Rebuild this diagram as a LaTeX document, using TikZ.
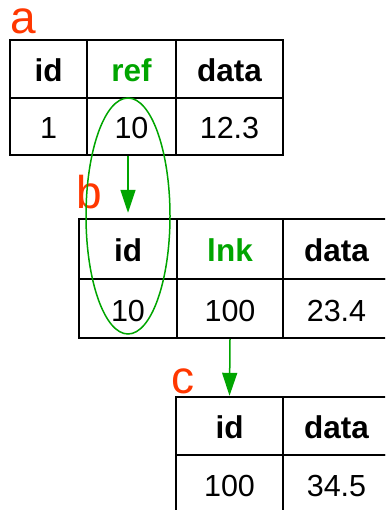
\documentclass[tikz,border=0pt]{standalone}
\usepackage{fontspec}
\setmainfont{Liberation Sans}
\usetikzlibrary{arrows.meta,shapes.geometric}
\definecolor{linkGreen}{RGB}{0,165,0}
\definecolor{tagRed}{RGB}{255,55,0}
\tikzset{
    >={Triangle[length=23pt,width=15pt]},
    cell/.style={rectangle,draw=black,line width=2.4pt,inner sep=0pt,text height=25pt,text depth=0pt,font=\fontsize{30.5}{32}\selectfont},
    head/.style={cell,font=\fontsize{31.5}{33}\selectfont\bfseries},
    tag/.style={anchor=base west,inner sep=0pt,text height=24pt,text depth=0pt,text=tagRed,font=\fontsize{46}{48}\selectfont},
    link/.style={->,draw=linkGreen,line width=1.5pt}
}

\begin{document}
\begin{tikzpicture}[x=1pt,y=-1pt]
  \useasboundingbox (0,0) rectangle (385,510);
  \clip (0,0) rectangle (385,510);

  % table a
  \node[head,minimum width=77pt,minimum height=58pt]  (a-id)   at (48.5,69)    {id};
  \node[head,minimum width=89pt,minimum height=58pt,text=linkGreen] (a-ref) at (131.5,69) {ref};
  \node[head,minimum width=107pt,minimum height=58pt] (a-data) at (229.5,69)   {data};
  \node[cell,minimum width=77pt,minimum height=57pt]  (a-id1)  at (48.5,126.5) {1};
  \node[cell,minimum width=89pt,minimum height=57pt]  (a-ref1) at (131.5,126.5) {10};
  \node[cell,minimum width=107pt,minimum height=57pt] (a-data1) at (229.5,126.5) {12.3};

  % table b
  \node[head,minimum width=98pt,minimum height=60pt]  (b-id)   at (128,249)    {id};
  \node[head,minimum width=106pt,minimum height=60pt,text=linkGreen] (b-lnk) at (230,249) {lnk};
  \node[head,minimum width=107pt,minimum height=60pt] (b-data) at (336.5,249)  {data};
  \node[cell,minimum width=98pt,minimum height=59pt]  (b-id1)  at (128,308.5)  {10};
  \node[cell,minimum width=106pt,minimum height=59pt] (b-lnk1) at (230,308.5)  {100};
  \node[cell,minimum width=107pt,minimum height=59pt] (b-data1) at (336.5,308.5) {23.4};

  % table c
  \node[head,minimum width=107pt,minimum height=58pt] (c-id)   at (229.5,426)  {id};
  \node[head,minimum width=107pt,minimum height=58pt] (c-data) at (336.5,426)  {data};
  \node[cell,minimum width=107pt,minimum height=58pt] (c-id1)  at (229.5,484)  {100};
  \node[cell,minimum width=107pt,minimum height=58pt] (c-data1) at (336.5,484) {34.5};

  % labels
  \node[tag] (tag-a) at (10,34)  {a};
  \node[tag] (tag-b) at (76,209) {b};
  \node[tag] (tag-c) at (171,393) {c};

  % links
  \node[ellipse,draw=linkGreen,line width=1.5pt,inner sep=0pt,minimum width=84pt,minimum height=236pt] (match) at (128,216) {};
  \draw[link,shorten >=5pt] (a-ref1.south -| b-id.north) -- (b-id.north);
  \draw[link] (b-lnk1.south) -- (c-id.north);
\end{tikzpicture}
\end{document}
